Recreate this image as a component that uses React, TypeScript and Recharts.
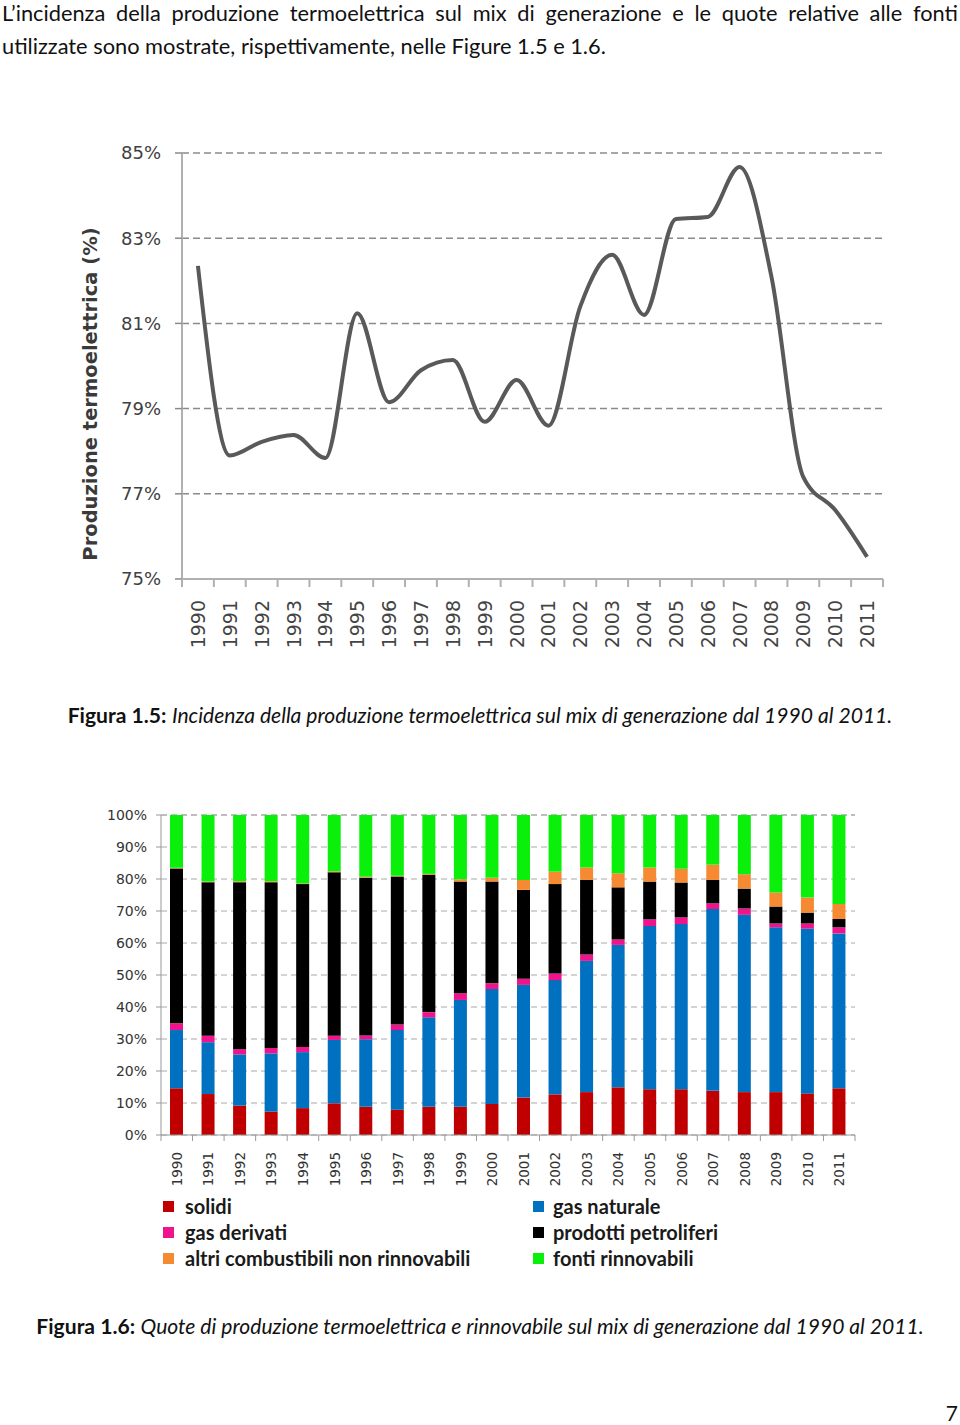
import React from 'react';
import { LineChart, Line, BarChart, Bar, XAxis, YAxis, CartesianGrid, Legend } from 'recharts';

// ---- dati ----
const years = [
  '1990', '1991', '1992', '1993', '1994', '1995', '1996', '1997', '1998', '1999', '2000',
  '2001', '2002', '2003', '2004', '2005', '2006', '2007', '2008', '2009', '2010', '2011',
];

// Figura 1.5 - incidenza termoelettrico (%)
const termoelettrica = [
  82.35, 77.9, 78.22, 78.38, 77.84, 81.24, 79.15, 79.9, 80.14, 78.69, 79.67,
  78.6, 81.4, 82.61, 81.2, 83.45, 83.5, 84.67, 82.09, 77.39, 76.62, 75.52,
];
const lineTicks = [75, 77, 79, 81, 83, 85];

// Figura 1.6 - quote (%)
const solidi = [14.6, 12.8, 9.2, 7.3, 8.4, 9.9, 8.8, 7.9, 8.8, 8.8, 9.7, 11.7, 12.7, 13.4, 14.9, 14.3, 14.3, 13.8, 13.4, 13.4, 13.0, 14.6];
const gasNaturale = [18.2, 16.2, 16.0, 18.2, 17.5, 19.8, 21.1, 24.9, 28.0, 33.4, 35.9, 35.2, 35.7, 41.0, 44.5, 51.0, 51.6, 56.8, 55.4, 51.5, 51.5, 48.4];
const gasDerivati = [2.1, 2.0, 1.6, 1.7, 1.6, 1.3, 1.2, 1.7, 1.6, 2.1, 1.8, 1.9, 2.1, 2.0, 1.7, 2.1, 2.1, 1.8, 2.0, 1.2, 1.6, 1.9];
const petroliferi = [48.4, 48.0, 52.2, 51.8, 50.9, 51.1, 49.3, 46.3, 42.9, 34.9, 31.8, 27.8, 27.9, 23.3, 16.3, 11.8, 10.9, 7.3, 6.2, 5.3, 3.4, 2.6];
const altri = [0.2, 0.2, 0.3, 0.3, 0.2, 0.3, 0.3, 0.2, 0.3, 0.7, 1.2, 3.1, 3.9, 3.9, 4.4, 4.4, 4.3, 4.8, 4.5, 4.4, 4.7, 4.7];
const rinnovabili = [16.5, 20.8, 20.7, 20.7, 21.4, 17.6, 19.3, 19.0, 18.4, 20.1, 19.6, 20.3, 17.7, 16.4, 18.2, 16.4, 16.8, 15.5, 18.5, 24.2, 25.8, 27.8];
const barTicks = [0, 10, 20, 30, 40, 50, 60, 70, 80, 90, 100];

const series = [
  { key: 'solidi', name: 'solidi', color: '#C00000', values: solidi },
  { key: 'gasNaturale', name: 'gas naturale', color: '#0070C0', values: gasNaturale },
  { key: 'gasDerivati', name: 'gas derivati', color: '#F0148C', values: gasDerivati },
  { key: 'petroliferi', name: 'prodotti petroliferi', color: '#000000', values: petroliferi },
  { key: 'altri', name: 'altri combustibili non rinnovabili', color: '#F58A32', values: altri },
  { key: 'rinnovabili', name: 'fonti rinnovabili', color: '#0AF00A', values: rinnovabili },
];

// ordine della legenda (due colonne)
const legendOrder = ['solidi', 'gasNaturale', 'gasDerivati', 'petroliferi', 'altri', 'rinnovabili'];

const lineData = years.map((year, i) => ({ year, value: termoelettrica[i] }));
const barData = years.map((year, i) => {
  const row: any = { year };
  series.forEach((s) => (row[s.key] = s.values[i]));
  return row;
});

const TEXT_FONT = 'Lato, "Open Sans", sans-serif';
const CHART_FONT = '"DejaVu Sans", Verdana, sans-serif';

// etichetta anno ruotata + tacche sui bordi delle categorie (stile Excel)
const YearTick = (props: any) => {
  const { x, y, payload, index, visibleTicksCount, width, offset, size, color, tick, stroke, strokeWidth } = props;
  const n = visibleTicksCount || years.length;
  const bw = (width || 0) / n;
  const ty = y + offset;
  return (
    <g>
      <line x1={x - bw / 2} x2={x - bw / 2} y1={y} y2={y + tick} stroke={stroke} strokeWidth={strokeWidth} />
      {index === n - 1 && (
        <line x1={x + bw / 2} x2={x + bw / 2} y1={y} y2={y + tick} stroke={stroke} strokeWidth={strokeWidth} />
      )}
      <text
        x={x}
        y={ty}
        transform={`rotate(-90, ${x}, ${ty})`}
        textAnchor="end"
        dominantBaseline="central"
        fontFamily={CHART_FONT}
        fontSize={size}
        fill={color}
      >
        {payload.value}
      </text>
    </g>
  );
};

const LegendBox = () => {
  const byKey: any = {};
  series.forEach((s) => (byKey[s.key] = s));
  return (
    <div style={{ position: 'relative', width: 960, height: 78 }}>
      {legendOrder.map((k, i) => {
        const s = byKey[k];
        const col = i % 2;
        const row = Math.floor(i / 2);
        return (
          <div
            key={k}
            style={{
              position: 'absolute',
              left: col === 0 ? 163 : 533,
              top: row * 26,
              height: 26,
              display: 'flex',
              alignItems: 'center',
              fontFamily: TEXT_FONT,
              fontWeight: 700,
              fontSize: 20,
              color: '#1a1a1a',
              whiteSpace: 'nowrap',
            }}
          >
            <span style={{ display: 'inline-block', width: 11, height: 11, background: s.color, marginRight: col === 0 ? 11 : 9 }} />
            {s.name}
          </div>
        );
      })}
    </div>
  );
};

export default function App() {
  return (
    <div
      style={{
        position: 'absolute',
        left: 0,
        top: 0,
        width: 960,
        height: 1425,
        background: '#fff',
        overflow: 'hidden',
        fontFamily: TEXT_FONT,
        color: '#111',
      }}
    >
      <div
        style={{
          position: 'absolute',
          left: 2,
          top: -4,
          width: 956,
          fontSize: 21.8,
          lineHeight: '33px',
          textAlign: 'justify',
        }}
      >
        L’incidenza della produzione termoelettrica sul mix di generazione e le quote relative alle fonti
        utilizzate sono mostrate, rispettivamente, nelle Figure 1.5 e 1.6.
      </div>

      {/* Figura 1.5 */}
      <div style={{ position: 'absolute', left: 0, top: 0 }}>
        <LineChart width={960} height={680} data={lineData} margin={{ top: 153, right: 77, bottom: 0, left: 0 }}>
          <CartesianGrid vertical={false} stroke="#8a8a8a" strokeWidth={1.5} strokeDasharray="7 4" />
          <XAxis
            dataKey="year"
            scale="band"
            interval={0}
            height={101}
            axisLine={{ stroke: '#b0b0b0', strokeWidth: 2 }}
            tickLine={false}
            tickSize={0}
            tickMargin={0}
            tick={(p: any) => (
              <YearTick {...p} offset={21} size={19} color="#444" tick={8} stroke="#b0b0b0" strokeWidth={2} />
            )}
          />
          <YAxis
            domain={[75, 85]}
            ticks={lineTicks}
            interval={0}
            width={182}
            tickFormatter={(v: number) => `${v}%`}
            axisLine={{ stroke: '#b0b0b0', strokeWidth: 2 }}
            tickLine={{ stroke: '#8a8a8a', strokeWidth: 1.5 }}
            tickSize={7}
            tickMargin={14}
            tick={{ fontFamily: CHART_FONT, fontSize: 18, fill: '#404040' }}
            label={{
              content: () => (
                <text
                  x={90}
                  y={394}
                  transform="rotate(-90, 90, 394)"
                  textAnchor="middle"
                  dominantBaseline="central"
                  fontFamily={CHART_FONT}
                  fontWeight="bold"
                  fontSize={19.5}
                  fill="#3a3a3a"
                >
                  Produzione termoelettrica (%)
                </text>
              ),
            }}
          />
          <Line
            type="monotone"
            dataKey="value"
            stroke="#595959"
            strokeWidth={4}
            dot={false}
            activeDot={false}
            isAnimationActive={false}
          />
        </LineChart>
      </div>

      <div
        style={{
          position: 'absolute',
          left: 0,
          top: 700,
          width: 960,
          textAlign: 'center',
          fontSize: 21.1,
          lineHeight: '30px',
        }}
      >
        <b>Figura 1.5:</b> <i>Incidenza della produzione termoelettrica sul mix di generazione dal 1990 al 2011.</i>
      </div>

      {/* Figura 1.6 */}
      <div style={{ position: 'absolute', left: 0, top: 780 }}>
        <BarChart width={960} height={491} data={barData} margin={{ top: 35, right: 105, bottom: 0, left: 0 }}>
          <CartesianGrid vertical={false} stroke="#a8a8a8" strokeWidth={1} strokeDasharray="6 4" />
          <XAxis
            dataKey="year"
            interval={0}
            height={58}
            axisLine={{ stroke: '#999' }}
            tickLine={false}
            tickSize={0}
            tickMargin={0}
            tick={(p: any) => (
              <YearTick {...p} offset={17} size={13.5} color="#333" tick={6} stroke="#999" strokeWidth={1} />
            )}
          />
          <YAxis
            domain={[0, 100]}
            ticks={barTicks}
            interval={0}
            width={161}
            tickFormatter={(v: number) => `${v}%`}
            axisLine={{ stroke: '#999' }}
            tickLine={{ stroke: '#999' }}
            tickSize={5}
            tickMargin={9}
            tick={{ fontFamily: CHART_FONT, fontSize: 14, fill: '#333' }}
          />
          <Legend verticalAlign="bottom" wrapperStyle={{ left: 0, width: 960 }} content={() => <LegendBox />} />
          {series.map((s) => (
            <Bar
              key={s.key}
              dataKey={s.key}
              name={s.name}
              stackId="quote"
              fill={s.color}
              barSize={13}
              isAnimationActive={false}
            />
          ))}
        </BarChart>
      </div>

      <div
        style={{
          position: 'absolute',
          left: 0,
          top: 1311,
          width: 960,
          textAlign: 'center',
          fontSize: 21.1,
          lineHeight: '30px',
        }}
      >
        <b>Figura 1.6:</b> <i>Quote di produzione termoelettrica e rinnovabile sul mix di generazione dal 1990 al 2011.</i>
      </div>

      <div style={{ position: 'absolute', right: 2, top: 1402, fontSize: 21, lineHeight: '22px' }}>7</div>
    </div>
  );
}
